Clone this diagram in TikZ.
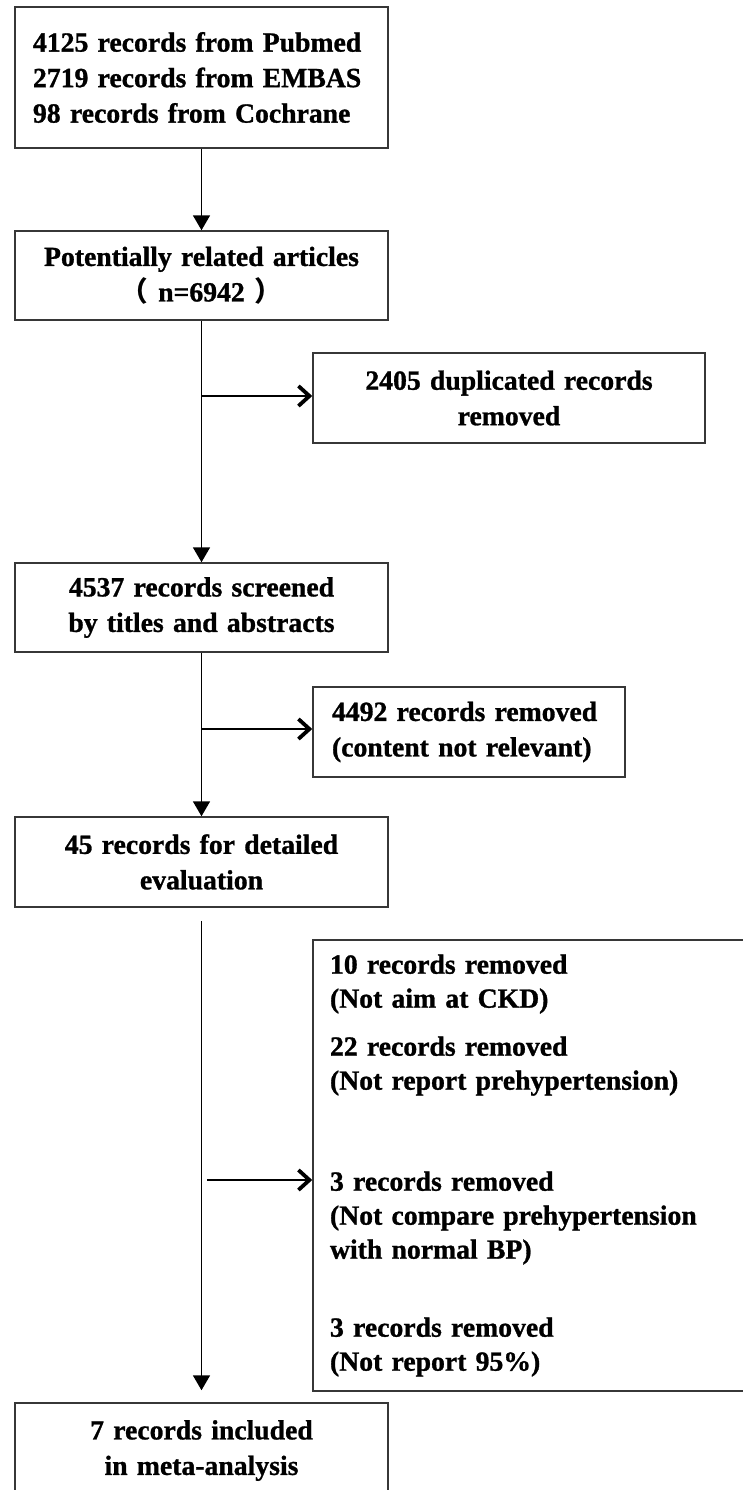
\documentclass[tikz,border=0pt]{standalone}
\usepackage{fontspec}
\setmainfont{Liberation Serif}[BoldFeatures={FakeBold=1}]
\newfontfamily\cjk{Noto Sans CJK SC}
\usetikzlibrary{arrows.meta}
\definecolor{boxgray}{RGB}{55,55,55}
\newcommand{\boxfont}{\bfseries\fontsize{27.7}{35.5}\selectfont}

\begin{document}
\begin{tikzpicture}[x=1pt,y=1pt,font=\boxfont,
  flowbox/.style={draw=boxgray,line width=1.5pt,inner ysep=0pt},
  midbox/.style={flowbox,text width=373pt,inner xsep=0pt,align=center},
  mainarr/.style={line width=1.8pt,-{Triangle[length=15pt,width=17pt]}},
  sidearr/.style={line width=1.8pt,-{Straight Barb[length=11pt,width=20pt,line width=3.8pt]}}]
  \useasboundingbox (0,0) rectangle (742,-1490);

  % main column
  \node[flowbox,text width=337pt,inner xsep=18pt,align=left,minimum height=141pt] (src) at (201.5,-77.5)
    {4125 records from Pubmed\\2719 records from EMBAS\\98 records from Cochrane};
  \node[midbox,minimum height=89pt] (pot) at (201.5,-275.5)
    {Potentially related articles\\{\cjk （}\hspace{10pt}n=6942\hspace{10pt}{\cjk ）}};
  \node[midbox,minimum height=89pt] (scr) at (201.5,-607.5)
    {4537 records screened\\by titles and abstracts};
  \node[midbox,minimum height=90pt] (det) at (201.5,-862)
    {45 records for detailed\\evaluation};
  \node[midbox,minimum height=95pt] (incl) at (201.5,-1450.5)
    {7 records included\\in meta-analysis};

  % removed records
  \node[flowbox,text width=392pt,inner xsep=0pt,align=center,minimum height=90pt] (dup) at (509,-398)
    {2405 duplicated records\\removed};
  \node[flowbox,text width=274pt,inner xsep=19pt,align=left,minimum height=90pt] (rel) at (469,-732)
    {4492 records removed\\(content not relevant)};
  \node[flowbox,text width=433pt,inner xsep=17pt,align=left,minimum height=451pt,
        font=\bfseries\fontsize{27.7}{34}\selectfont] (exc) at (546.5,-1165.5)
    {10 records removed\\(Not aim at CKD)\\[14pt]
     22 records removed\\(Not report prehypertension)\\[67pt]
     3 records removed\\(Not compare prehypertension\\with normal BP)\\[44pt]
     3 records removed\\(Not report 95\%)};

  % connectors
  \coordinate (b1) at (201.5,-396);
  \coordinate (b2) at (201.5,-729);
  \coordinate (b3) at (207,-1180);
  \coordinate (d0) at ([yshift=-13pt]det.south);
  \coordinate (d1) at ([yshift=12pt]incl.north);
  \draw[mainarr] (src) -- (pot);
  \draw[mainarr] (pot) -- (scr);
  \draw[mainarr] (scr) -- (det);
  \draw[mainarr] (d0) -- (d1);
  \draw[sidearr] (b1) -- (b1 -| dup.west);
  \draw[sidearr] (b2) -- (b2 -| rel.west);
  \draw[sidearr] (b3) -- (b3 -| exc.west);
\end{tikzpicture}
\end{document}
